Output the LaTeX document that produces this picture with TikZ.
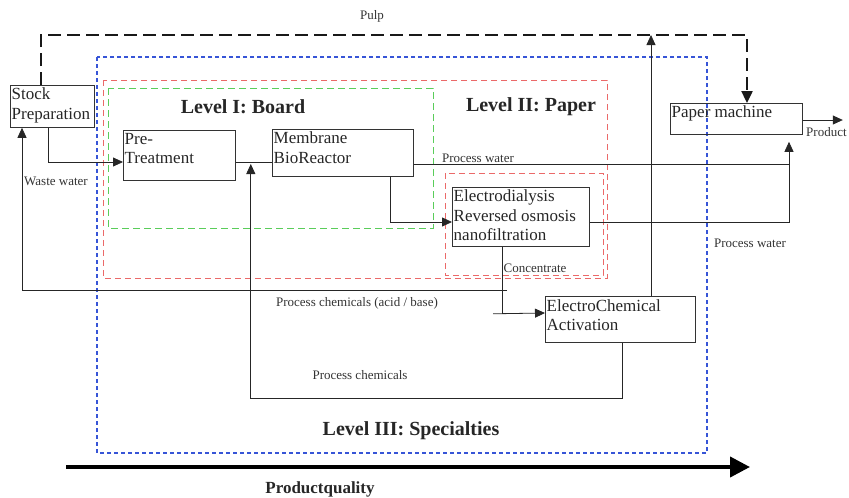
\documentclass[tikz,border=0pt]{standalone}
\usepackage{fontspec}
\setmainfont{Liberation Serif}
\usetikzlibrary{arrows.meta,calc}
\definecolor{lvblue}{RGB}{55,85,215}
\definecolor{lvred}{RGB}{235,105,105}
\definecolor{lvgreen}{RGB}{90,205,90}
\begin{document}
\begin{tikzpicture}[x=1pt,y=-1pt,
  box/.style={draw=black!80, line width=0.8pt, anchor=north west, inner sep=0pt},
  btxt/.style={anchor=north west, align=left, inner xsep=1.5pt, inner ysep=3pt, font=\rmfamily\fontsize{17}{19.5}\selectfont, text=black!85},
  small/.style={font=\rmfamily\fontsize{13}{15}\selectfont, text=black!80, inner sep=0pt},
  lvl/.style={font=\rmfamily\fontsize{20}{24}\selectfont\bfseries, text=black!85, inner sep=0pt},
  conn/.style={line width=0.8pt, draw=black!85},
  arr/.style={conn, -{Triangle[length=10pt,width=9pt]}},
  pulpline/.style={line width=2.4pt, draw=black!90, dash pattern=on 13pt off 6pt, -{Triangle[length=12pt,width=11pt]}},
  redzone/.style={lvred, line width=0.9pt, dash pattern=on 6pt off 4pt},
]
\useasboundingbox (0,0) rectangle (849,498);

% level regions
\draw[lvblue, line width=1.4pt, dash pattern=on 4pt off 3pt] (97,57) rectangle (707,453);
\draw[redzone] (103,80) rectangle (607,278);
\draw[redzone] (445,173) rectangle (603,275);
\draw[lvgreen, line width=0.9pt, dash pattern=on 7pt off 4pt] (108,88) rectangle (433,228);

% boxes
\node[box, minimum width=84pt, minimum height=42pt] (sp) at (10,85) {};
\node[box, minimum width=112pt, minimum height=50pt] (pt) at (123,130) {};
\node[box, minimum width=141pt, minimum height=47pt] (mbr) at (272,129) {};
\node[box, minimum width=137pt, minimum height=59pt] (ed) at (452,187) {};
\node[box, minimum width=132pt, minimum height=31pt] (pm) at (670,103) {};
\node[box, minimum width=150pt, minimum height=46pt] (eca) at (545,296) {};

\node[btxt] (tsp) at (sp.north west) {Stock\\Preparation};
\node[btxt] (tpt) at (pt.north west) {Pre-\\Treatment};
\node[btxt] (tmbr) at (mbr.north west) {Membrane\\BioReactor};
\node[btxt] (ted) at (ed.north west) {Electrodialysis\\Reversed osmosis\\nanofiltration};
\node[btxt] (tpm) at (pm.north west) {Paper machine};
\node[btxt] (teca) at (eca.north west) {ElectroChemical\\Activation};

% coordinates
\coordinate (pulpL) at (41,35);
\coordinate (pulpR) at (747,35);
\coordinate (ecaup) at (651,35);
\coordinate (pqL) at (66,467);
\coordinate (pqR) at (750,467);

% connectors
\draw[pulpline] (sp.north -| pulpL) -- (pulpL) -- (pulpR) -- (pm.north -| pulpR);
\draw[arr] (eca.north -| ecaup) -- (ecaup);
\draw[arr] ($(sp.south west)+(38,0)$) |- ($(pt.north west)+(0,32)$);
\draw[conn] ($(pt.north east)+(0,32)$) -- ($(mbr.north west)+(0,33)$);
\draw[arr] ($(mbr.south west)+(118,0)$) |- ($(ed.north west)+(0,35)$);
\draw[arr, shorten >=7pt] ($(mbr.north east)+(0,35)$) -| ($(pm.south west)+(119,0)$);
\draw[conn] ($(ed.north east)+(0,35)$) -| ($(pm.south west)+(119,30)$);
\draw[conn] ($(ed.south west)+(50,0)$) -- ($(ed.south west)+(50,67)$);
\draw[arr] ($(ed.south west)+(41,67)$) -- ($(eca.north west)+(0,17)$);
\draw[arr] ($(ed.south west)+(55,44)$) -| ($(sp.south west)+(12,0)$);
\draw[arr, shorten >=2pt] ($(eca.south west)+(77,0)$) -- ++(0,56) -| ($(pt.north east)+(15,32)$);
\draw[arr] ($(pm.north east)+(0,17)$) -- ++(40,0);
\draw[line width=4pt, -{Triangle[length=20pt,width=20pt]}] (pqL) -- (pqR);

% labels
\node[small] (lpulp) at (372,16) {Pulp};
\node[small] (lww) at (56,181) {Waste water};
\node[small] (lpw1) at (478,158) {Process water};
\node[small] (lpw2) at (750,243) {Process water};
\node[small] (lconc) at (535,268) {Concentrate};
\node[small] (lacid) at (357,303) {Process chemicals (acid / base)};
\node[small] (lpc) at (360,375) {Process chemicals};
\node[small, anchor=west] (lprod) at (806,132) {Product};

\node[lvl] (l1) at (243,107) {Level I: Board};
\node[lvl] (l2) at (531,107) {Level II: Paper};
\node[lvl] (l3) at (411,431) {Level III: Specialties};
\node[font=\rmfamily\fontsize{17}{20}\selectfont\bfseries, text=black!85, inner sep=0pt] (lpq) at (320,489) {Productquality};
\end{tikzpicture}
\end{document}
